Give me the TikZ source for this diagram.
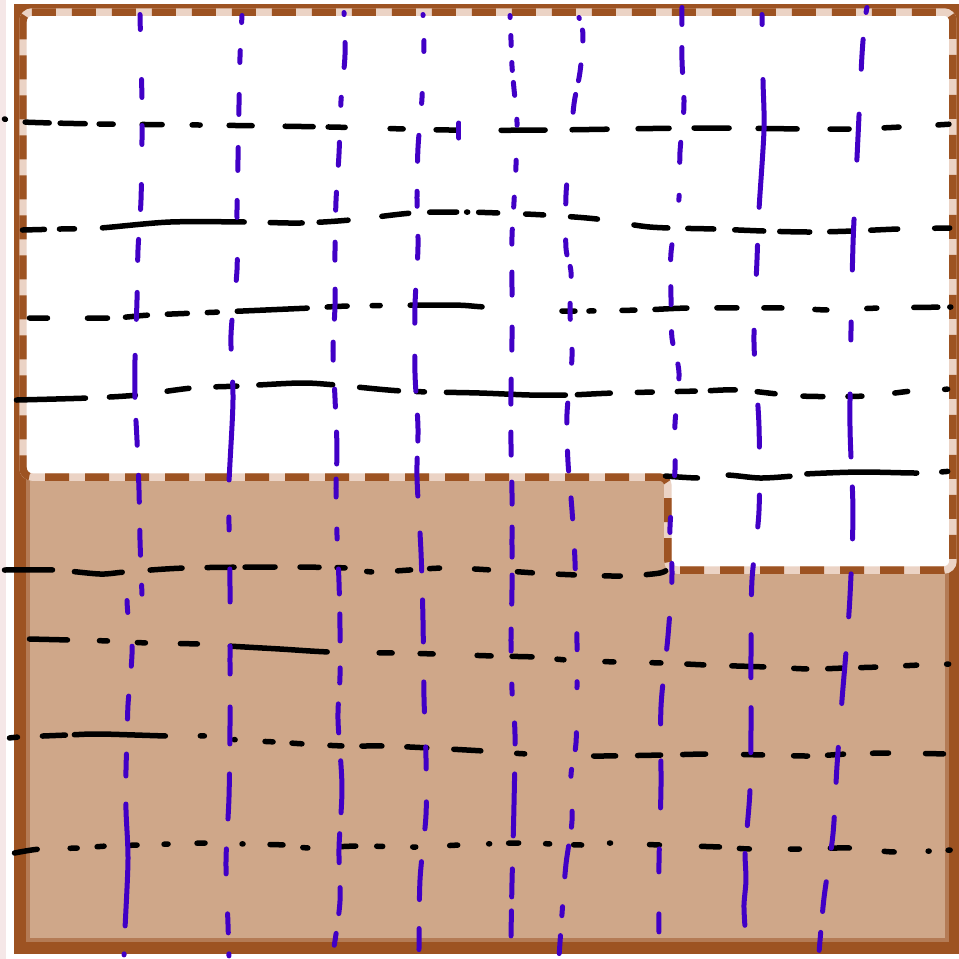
\documentclass[tikz,border=0pt]{standalone}
\usepackage{tikz}
\definecolor{rimbrown}{HTML}{9D5322}
\definecolor{rimlight}{HTML}{B47B55}
\definecolor{rimpale}{HTML}{EBD3C5}
\definecolor{clay}{HTML}{CFA789}
\definecolor{inkblue}{HTML}{4100C6}
\definecolor{edgepink}{HTML}{F5E7E7}

\begin{document}
\begin{tikzpicture}[x=0.1mm,y=-0.1mm,
  hline/.style={line width=0.55mm,line cap=round,black},
  vline/.style={line width=0.5mm,line cap=round,draw=inkblue},
  pane/.style={line width=0.75mm,rounded corners=0.9mm}]
\useasboundingbox (0,0) rectangle (959,959);
\fill[edgepink] (0,0) rectangle (6,959);
% brown ground and its rim
\draw[fill=clay,draw=rimbrown,line width=1.2mm] (20,10) rectangle (953,948);
\draw[rimlight,line width=0.4mm] (28,18) rectangle (947,940);
% white part with the notch
\draw[pane,fill=white,draw=rimpale] (23,12) -- (953,12) -- (953,570) -- (668,570) -- (668,477) -- (23,477) -- cycle;
\draw[pane,draw=rimbrown,dash pattern=on 2.4mm off 1.6mm] (23,12) -- (953,12) -- (953,570) -- (668,570) -- (668,477) -- (23,477) -- cycle;

% black wavy rows
\draw[hline,dash pattern=on 0.1mm off 2.0mm on 2.4mm off 1.1mm on 2.5mm off 1.4mm on 1.4mm off 2.9mm on 2.0mm off 3.0mm on 0.8mm off 2.9mm on 2.3mm off 3.3mm on 2.8mm off 1.5mm on 1.7mm off 4.5mm on 1.3mm off 3.3mm on 2.1mm off 4.4mm on 4.4mm off 2.7mm on 3.5mm off 3.1mm on 3.1mm off 2.5mm on 3.5mm off 2.9mm on 3.9mm off 3.3mm on 1.9mm off 3.5mm on 1.5mm off 3.9mm on 1.1mm off 5mm]
  plot[smooth] coordinates {(4.5,119) (23,122) (100,124) (200,125) (330,127) (450,130) (550,130) (700,128) (850,129) (952,124)};
\draw[hline,dash pattern=on 2.2mm off 1.5mm on 1.5mm off 2.8mm on 14.2mm off 2.6mm on 3.2mm off 1.7mm on 2.9mm off 3.4mm on 2.7mm off 2.1mm on 2.7mm off 1.0mm on 0.1mm off 1.1mm on 1.9mm off 2.8mm on 1.8mm off 2.7mm on 2.7mm off 3.7mm on 3.4mm off 2.0mm on 2.6mm off 2.1mm on 2.9mm off 1.6mm on 3.0mm off 2.0mm on 2.3mm off 1.8mm on 2.7mm off 3.7mm on 1.5mm off 5mm]
  plot[smooth] coordinates {(22.5,230) (60,229) (100,228) (170,222) (247,222) (300,223) (350,220) (412,213) (460,212) (500,213) (545,215) (597,219) (650,227) (714,229) (764,231) (810,232) (853,231) (898,229) (950,228)};
\draw[hline,dash pattern=on 1.8mm off 4.0mm on 2.0mm off 1.8mm on 2.2mm off 2.0mm on 2.0mm off 2.0mm on 1.0mm off 2.0mm on 7.0mm off 2.0mm on 2.0mm off 2.5mm on 0.8mm off 3.0mm on 7.2mm off 8.0mm on 1.3mm off 1.4mm on 0.5mm off 2.8mm on 1.3mm off 2.0mm on 3.2mm off 3.0mm on 2.0mm off 2.7mm on 1.8mm off 3.3mm on 1.2mm off 4.0mm on 1.0mm off 3.7mm on 2.4mm off 1.2mm on 0.1mm off 5mm]
  plot[smooth] coordinates {(29.5,318) (110,318) (150,315) (220,312) (310,308) (350,306) (450,305) (485,307) (560,311) (640,310) (690,308) (785,308) (830,310) (880,308) (952,307)};
\draw[hline,dash pattern=on 6.9mm off 2.4mm on 2.6mm off 3.2mm on 2.2mm off 2.7mm on 2.1mm off 2.2mm on 7.4mm off 2.7mm on 3.9mm off 1.8mm on 0.8mm off 2.2mm on 11.9mm off 1.2mm on 3.3mm off 2.7mm on 1.5mm off 2.5mm on 1.8mm off 1.5mm on 2.5mm off 2.2mm on 1.8mm off 2.8mm on 2.0mm off 2.5mm on 1.4mm off 3.3mm on 1.3mm off 3.7mm on 0.3mm off 5mm]
  plot[smooth] coordinates {(16.5,400) (88,398) (138,395) (192,388) (240,386) (300,383) (336,385) (402,391) (480,393) (530,395) (569,395) (614,393) (700,391) (739,390) (800,396) (866,396) (912,391) (952,389)};
\draw[hline,dash pattern=on 3.2mm off 3.1mm on 6.2mm off 1.7mm on 11.0mm off 2.5mm on 0.6mm off 5mm]
  plot[smooth] coordinates {(665.5,476) (700,478) (726,475) (760,478) (793,476) (805,474) (860,472) (920,473) (952,471)};
\draw[hline,dash pattern=on 4.8mm off 2.2mm on 4.8mm off 2.8mm on 3.2mm off 2.5mm on 2.7mm off 1.1mm on 3.0mm off 2.5mm on 1.9mm off 1.8mm on 0.8mm off 2.2mm on 0.5mm off 2.6mm on 1.3mm off 1.9mm on 1.0mm off 3.5mm on 1.4mm off 2.9mm on 1.5mm off 2.6mm on 1.6mm off 3.0mm on 1.6mm off 2.6mm on 2.0mm off 5mm]
  plot[smooth] coordinates {(4.5,570) (55,570) (100,574) (125,572) (185,568) (278,567) (348,568) (375,572) (443,568) (492,570) (536,573) (578,575) (624,576) (660,573) (669,568)};
\draw[hline,dash pattern=on 3.8mm off 3.2mm on 0.8mm off 3.0mm on 0.8mm off 3.5mm on 1.7mm off 3.3mm on 9.7mm off 5.2mm on 1.3mm off 2.8mm on 1.3mm off 4.4mm on 1.4mm off 2.1mm on 2.0mm off 2.5mm on 0.7mm off 4.1mm on 0.9mm off 3.8mm on 0.9mm off 2.6mm on 1.7mm off 2.8mm on 3.2mm off 3.0mm on 1.3mm off 2.1mm on 1.4mm off 1.9mm on 1.5mm off 3.0mm on 1.1mm off 3.0mm on 0.2mm off 5mm]
  plot[smooth] coordinates {(29.5,639) (70,640) (110,641) (148,643) (200,644) (228,646) (280,649) (330,652) (395,653) (436,654) (494,656) (535,657) (567,660) (617,662) (664,663) (707,665) (767,667) (810,669) (845,668) (879,667) (920,665) (952,664)};
\draw[hline,dash pattern=on 0.8mm off 2.5mm on 2.3mm off 0.9mm on 9.1mm off 3.5mm on 0.4mm off 3.0mm on 0.1mm off 3.0mm on 0.8mm off 1.9mm on 1.0mm off 2.8mm on 1.2mm off 2.0mm on 2.0mm off 2.5mm on 2.0mm off 2.7mm on 2.7mm off 3.6mm on 0.8mm off 6.9mm on 2.2mm off 2.2mm on 2.3mm off 2.2mm on 2.3mm off 3.8mm on 1.9mm off 3.1mm on 1.4mm off 2.0mm on 1.6mm off 2.9mm on 1.6mm off 3.7mm on 1.8mm off 5mm]
  plot[smooth] coordinates {(9.5,738) (20,737) (68,735) (100,734) (168,736) (207,736) (238,740) (276,742) (305,744) (345,746) (385,746) (430,748) (484,751) (528,754) (592,756) (664,755) (709,754) (766,755) (811,756) (847,754) (892,753) (948,754)};
\draw[hline,dash pattern=on 2.3mm off 3.3mm on 0.7mm off 2.0mm on 0.7mm off 2.5mm on 0.8mm off 2.7mm on 0.4mm off 2.9mm on 0.8mm off 3.7mm on 0.1mm off 2.7mm on 1.3mm off 2.0mm on 0.5mm off 3.2mm on 1.6mm off 2.1mm on 0.6mm off 3.0mm on 0.3mm off 3.4mm on 0.8mm off 3.1mm on 0.1mm off 1.9mm on 1.0mm off 2.7mm on 0.4mm off 2.4mm on 0.8mm off 2.8mm on 0.1mm off 3.9mm on 1.0mm off 4.2mm on 1.8mm off 2.0mm on 1.0mm off 4.1mm on 0.9mm off 3.1mm on 1.9mm off 3.5mm on 1.0mm off 3.4mm on 0.1mm off 1.9mm on 0.2mm off 5mm]
  plot[smooth] coordinates {(14.5,853) (40,849) (80,848) (107,846) (140,845) (208,843) (245,844) (285,845) (310,848) (358,846) (418,847) (460,845) (520,843) (583,845) (611,843) (660,845) (720,847) (750,849) (800,849) (850,848) (895,852) (952,850)};

% blue wavy columns
\draw[vline,dash pattern=on 1.5mm off 5.0mm on 1.8mm off 2.8mm on 1.9mm off 4.0mm on 2.5mm off 3.0mm on 2.1mm off 3.2mm on 2.7mm off 3.6mm on 4.2mm off 2.3mm on 2.5mm off 3.0mm on 2.7mm off 2.8mm on 2.5mm off 3.0mm on 0.9mm off 5mm]
  plot[smooth] coordinates {(140,14.5) (141,60) (142,100) (142,140) (141,200) (138,250) (137,300) (135,360) (135,400) (137,440) (139,490) (140,540) (142,595)};
\draw[vline,dash pattern=on 1.2mm off 3.4mm on 2.0mm off 3.0mm on 2.3mm off 3.5mm on 2.2mm off 2.8mm on 12.2mm off 2.8mm on 0.1mm off 5mm]
  plot[smooth] coordinates {(127,600.5) (128,615) (132,645) (131,670) (128,705) (127,740) (126,770) (126,810) (128,860) (125,929) (124,957)};
\draw[vline,dash pattern=on 0.7mm off 2.8mm on 1.2mm off 3.2mm on 2.0mm off 3.3mm on 2.3mm off 3.0mm on 1.7mm off 4.2mm on 2.1mm off 4.0mm on 2.9mm off 3.3mm on 9.8mm off 3.7mm on 1.3mm off 3.9mm on 3.3mm off 4.4mm on 2.8mm off 3.3mm on 3.7mm off 3.0mm on 4.5mm off 3.0mm on 2.5mm off 4.0mm on 1.9mm off 2.1mm on 0.2mm off 5mm]
  plot[smooth] coordinates {(242,15.5) (240,57) (239,105) (238,160) (237,210) (237,270) (231,335) (233,400) (229,483) (229,524) (230,586) (230,660) (230,726) (229,797) (226,862) (228,924) (229,956)};
\draw[vline,dash pattern=on 0.2mm off 2.8mm on 2.5mm off 3.0mm on 0.8mm off 3.7mm on 2.3mm off 2.7mm on 1.8mm off 3.2mm on 1.8mm off 2.9mm on 3.0mm off 2.3mm on 1.8mm off 2.9mm on 1.8mm off 2.5mm on 3.2mm off 1.5mm on 1.8mm off 3.2mm on 1.0mm off 3.0mm on 2.5mm off 2.0mm on 2.7mm off 2.7mm on 1.5mm off 2.1mm on 2.9mm off 2.8mm on 5.2mm off 2.1mm on 2.9mm off 2.5mm on 2.6mm off 2.0mm on 1.2mm off 5mm]
  plot[smooth] coordinates {(344,12.5) (345,55) (341,101) (339,154) (336,201) (335,251) (335,305) (333,351) (335,398) (337,448) (336,488) (337,535) (339,582) (340,628) (340,676) (338,719) (342,787) (339,849) (340,901) (334,947)};
\draw[vline,dash pattern=on 0.1mm off 2.5mm on 1.1mm off 4.2mm on 1.0mm off 3.2mm on 2.6mm off 3.0mm on 1.5mm off 3.0mm on 2.2mm off 3.2mm on 3.3mm off 3.3mm on 3.5mm off 2.4mm on 2.6mm off 1.7mm on 3.8mm off 3.7mm on 3.8mm off 2.9mm on 4.2mm off 4.0mm on 3.0mm off 3.5mm on 2.2mm off 3.3mm on 2.7mm off 3.3mm on 3.8mm off 2.9mm on 2.1mm off 5mm]
  plot[smooth] coordinates {(423,14.5) (424,45) (422,98) (418,148) (417,198) (418,247) (415,306) (415,373) (418,428) (417,477) (421,552) (423,620) (424,697) (426,758) (426,815) (420,880) (419,950)};
\draw[vline] (459,123) -- (459,138);
\draw[vline,dash pattern=on 0.2mm off 1.8mm on 1.0mm off 1.7mm on 0.8mm off 1.2mm on 1.3mm off 2.4mm on 0.6mm off 3.5mm on 1.0mm off 2.7mm on 1.0mm off 2.2mm on 1.5mm off 2.8mm on 2.3mm off 3.2mm on 2.3mm off 2.9mm on 2.5mm off 2.8mm on 2.3mm off 2.7mm on 2.2mm off 2.3mm on 3.0mm off 1.8mm on 2.9mm off 2.5mm on 2.2mm off 3.3mm on 1.0mm off 2.9mm on 2.1mm off 3.0mm on 6.2mm off 3.3mm on 2.8mm off 1.4mm on 2.5mm off 5mm]
  plot[smooth] coordinates {(510,15.5) (511,40) (512,66) (514,89) (517,122) (516,165) (514,202) (512,237) (512,284) (512,339) (511,392) (511,444) (512,493) (512,542) (512,590) (511,640) (512,690) (515,734) (514,805) (512,883) (511,937)};
\draw[vline,dash pattern=on 0.1mm off 1.2mm on 1.1mm off 2.4mm on 1.6mm off 1.4mm on 1.8mm off 7.3mm on 1.9mm off 3.6mm on 1.5mm off 1.2mm on 1.0mm off 2.7mm on 1.6mm off 3.0mm on 1.4mm off 4.0mm on 2.0mm off 2.8mm on 2.0mm off 2.7mm on 2.1mm off 3.2mm on 1.8mm off 6.5mm on 1.6mm off 3.2mm on 0.6mm off 4.5mm on 1.7mm off 2.0mm on 0.7mm off 3.5mm on 1.6mm off 1.9mm on 3.1mm off 3.0mm on 0.9mm off 2.0mm on 1.8mm off 5mm]
  plot[smooth] coordinates {(579,17.5) (583,35) (580,72) (574,104) (570,150) (566,195) (566,248) (571,272) (570,312) (572,357) (567,414) (568,462) (572,510) (575,561) (577,643) (577,687) (576,743) (571,775) (572,821) (566,864) (562,914) (559,957)};
\draw[vline,dash pattern=on 1.7mm off 2.3mm on 2.5mm off 2.5mm on 1.5mm off 3.0mm on 2.0mm off 3.3mm on 0.5mm off 4.5mm on 1.5mm off 2.7mm on 1.8mm off 2.7mm on 1.2mm off 2.1mm on 1.5mm off 3.7mm on 1.2mm off 3.3mm on 1.5mm off 4.2mm on 1.5mm off 3.1mm on 1.9mm off 3.6mm on 3.1mm off 3.7mm on 3.8mm off 3.7mm on 4.7mm off 4.1mm on 2.3mm off 4.2mm on 1.8mm off 5mm]
  plot[smooth] coordinates {(682,7.5) (682,60) (684,105) (680,152) (679,198) (671,253) (671,297) (672,338) (679,373) (675,424) (675,470) (670,527) (672,575) (668,636) (661,707) (661,787) (659,863) (659,935)};
\draw[vline,dash pattern=on 1.0mm off 5.5mm on 12.8mm off 3.8mm on 2.9mm off 5.6mm on 2.4mm off 5.1mm on 4.2mm off 4.8mm on 3.2mm off 3.8mm on 3.0mm off 4.0mm on 4.3mm off 3.0mm on 4.5mm off 3.8mm on 3.5mm off 2.8mm on 7.2mm off 5mm]
  plot[smooth] coordinates {(762,14.5) (763,80) (764,130) (759,210) (757,260) (754,342) (759,426) (759,511) (752,580) (751,657) (751,731) (750,790) (747,829) (745,852) (746,880) (744,905) (745,927)};
\draw[vline,dash pattern=on 0.5mm off 2.7mm on 3.0mm off 4.5mm on 4.6mm off 5.9mm on 5.1mm off 5.2mm on 1.8mm off 5.4mm on 6.3mm off 3.0mm on 5.2mm off 3.5mm on 4.3mm off 3.7mm on 5.0mm off 4.4mm on 3.5mm off 3.5mm on 3.1mm off 3.4mm on 3.0mm off 2.1mm on 1.8mm off 5mm]
  plot[smooth] coordinates {(867,7.5) (865,20) (862,55) (858,137) (855,200) (853,245) (851,331) (850,426) (853,513) (850,596) (846,652) (842,700) (837,766) (833,834) (824,898) (819,953)};
\end{tikzpicture}
\end{document}
